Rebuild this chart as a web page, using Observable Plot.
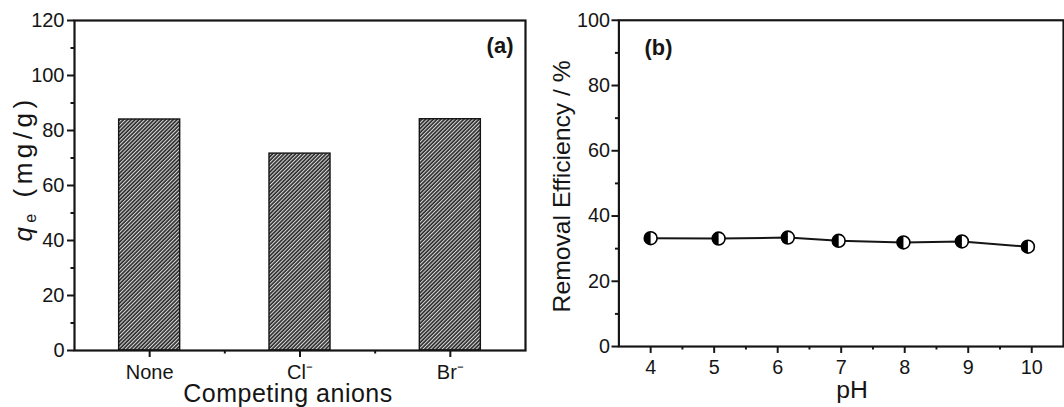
<!DOCTYPE html>
<html>
<head>
<meta charset="utf-8">
<script src="https://cdn.jsdelivr.net/npm/d3@7"></script>
<script src="https://cdn.jsdelivr.net/npm/@observablehq/plot@0.6"></script>
<style>
  html, body { margin: 0; padding: 0; background: #fff; }
  #wrap { position: relative; width: 1064px; height: 407px; overflow: hidden; background: #fff; }
  #a { position: absolute; left: 0; top: 0; }
  #b { position: absolute; left: 540px; top: 0; }
</style>
</head>
<body>
<div id="wrap"><div id="a"></div><div id="b"></div></div>
<script>
// ---- Panel (a) data ----
const categories = ["None", "Cl\u207B", "Br\u207B"];
const qeValues = [84.0, 71.6, 84.1];
const yTicksA = [0, 20, 40, 60, 80, 100, 120];
const yMinorA = [10, 30, 50, 70, 90, 110];
const xTicksA = [1, 2, 3];
const xMinorA = [1.5, 2.5];

// ---- Panel (b) data ----
const pH = [4.0, 5.07, 6.16, 6.96, 7.98, 8.9, 9.94];
const removal = [33.2, 33.1, 33.4, 32.4, 31.9, 32.2, 30.6];
const yTicksB = [0, 20, 40, 60, 80, 100];
const yMinorB = [10, 30, 50, 70, 90];
const xTicksB = [4, 5, 6, 7, 8, 9, 10];
const xMinorB = [4.5, 5.5, 6.5, 7.5, 8.5, 9.5];

const font = "'Liberation Sans', Arial, Helvetica, sans-serif";
const ink = "#151515";
const tickFont = 20;
const bars = categories.map((c, i) => ({pos: i + 1, cat: c, v: qeValues[i]}));
const pts = pH.map((p, i) => ({pH: p, r: removal[i]}));

const halfLeft = {
  draw(ctx, size) {
    const r = Math.sqrt(size / Math.PI);
    ctx.moveTo(0, -r);
    ctx.arc(0, 0, r, -Math.PI / 2, Math.PI / 2, true);
    ctx.closePath();
  }
};

const baseStyle = {fontFamily: font, fontSize: tickFont + "px", color: ink, background: "white", overflow: "visible"};

const plotA = Plot.plot({
  width: 540, height: 407,
  marginLeft: 74, marginRight: 15, marginTop: 20, marginBottom: 57,
  x: {domain: [0.5, 3.5]},
  y: {domain: [0, 120]},
  style: baseStyle,
  marks: [
    Plot.rectY(bars, {x1: d => d.pos - 0.203, x2: d => d.pos + 0.203, y: "v",
      fill: "url(#hatch)", stroke: ink, strokeWidth: 1.4}),
    Plot.axisY({ticks: yTicksA, tickSize: 7, tickPadding: 3, strokeWidth: 2, label: null, tickFormat: d => String(d)}),
    Plot.axisY({ticks: yMinorA, tickSize: 3.5, tickFormat: () => "", strokeWidth: 2, label: null}),
    Plot.axisX({ticks: xTicksA, tickSize: 7, tickPadding: 7, strokeWidth: 2, label: null,
      tickFormat: i => categories[i - 1]}),
    Plot.axisX({ticks: xMinorA, tickSize: 3.5, tickFormat: () => "", strokeWidth: 2, label: null}),
    Plot.frame({stroke: ink, strokeWidth: 2.2}),
    Plot.text(["Competing anions"], {frameAnchor: "bottom", textAnchor: "middle", lineAnchor: "bottom", dx: -12, dy: 51, fontSize: 25}),
    Plot.text(["qe (mg/g)"], {frameAnchor: "left", textAnchor: "middle", lineAnchor: "middle", rotate: -90, dx: -51, dy: -17, fontSize: 26}),
    Plot.text(["(a)"], {frameAnchor: "top-right", textAnchor: "end", lineAnchor: "bottom", dx: -12, dy: 32, fontSize: 22, fontWeight: "bold"})
  ]
});

const plotB = Plot.plot({
  width: 530, height: 407,
  marginLeft: 79.3, marginRight: 1, marginTop: 20, marginBottom: 57,
  x: {domain: [3.5, 10.5]},
  y: {domain: [0, 100]},
  style: baseStyle,
  marks: [
    Plot.line(pts, {x: "pH", y: "r", stroke: ink, strokeWidth: 2}),
    Plot.dot(pts, {x: "pH", y: "r", r: 6.5, fill: "white", stroke: "none"}),
    Plot.dot(pts, {x: "pH", y: "r", r: 6.5, symbol: halfLeft, fill: "#000", stroke: "none"}),
    Plot.dot(pts, {x: "pH", y: "r", r: 6.5, fill: "none", stroke: "#000", strokeWidth: 1.6}),
    Plot.axisY({ticks: yTicksB, tickSize: 7, tickPadding: 2, strokeWidth: 2, label: null, tickFormat: d => String(d)}),
    Plot.axisY({ticks: yMinorB, tickSize: 3.5, tickFormat: () => "", strokeWidth: 2, label: null}),
    Plot.axisX({ticks: xTicksB, tickSize: 7, tickPadding: 7, strokeWidth: 2, label: null, tickFormat: d => String(d)}),
    Plot.axisX({ticks: xMinorB, tickSize: 3.5, tickFormat: () => "", strokeWidth: 2, label: null}),
    Plot.frame({stroke: ink, strokeWidth: 2.2}),
    Plot.text(["pH"], {frameAnchor: "bottom", textAnchor: "middle", lineAnchor: "bottom", dx: 11, dy: 52, fontSize: 25}),
    Plot.text(["Removal Efficiency / %"], {frameAnchor: "left", textAnchor: "middle", lineAnchor: "middle", rotate: -90, dx: -57, dy: 3, fontSize: 25}),
    Plot.text(["(b)"], {frameAnchor: "top-left", textAnchor: "start", lineAnchor: "bottom", dx: 26, dy: 35, fontSize: 22, fontWeight: "bold"})
  ]
});

document.getElementById("a").appendChild(plotA);
document.getElementById("b").appendChild(plotB);

// tick label size: force on every axis text
for (const p of [plotA, plotB]) {
  d3.select(p).selectAll("text").each(function () {
    const g = this.closest('g[aria-label*="axis"]');
    if (g) { this.setAttribute("font-size", String(tickFont)); this.style.fontSize = tickFont + "px"; }
  });
}

// hatch pattern for the bars
d3.select(plotA).insert("defs", ":first-child").html(
  '<pattern id="hatch" patternUnits="userSpaceOnUse" width="2.7" height="2.7" patternTransform="rotate(45)">' +
  '<rect width="2.7" height="2.7" fill="#2b2b2b"/><rect width="1.05" height="2.7" fill="#d9d9d9"/></pattern>'
);

// rich text for the y label of (a) and spacing tuning
d3.select(plotA).selectAll("text").each(function () {
  const t = d3.select(this);
  const s = this.textContent;
  if (s === "qe (mg/g)") {
    t.text(null);
    t.append("tspan").attr("font-style", "italic").text("q");
    t.append("tspan").attr("font-size", 16).attr("dy", 4).text("e");
    t.append("tspan").attr("dy", -4).text(" (mg/g)");
    t.style("letter-spacing", "4.5px");
  } else if (s === "Competing anions") {
    t.style("letter-spacing", "0.5px");
  }
});
</script>
</body>
</html>
